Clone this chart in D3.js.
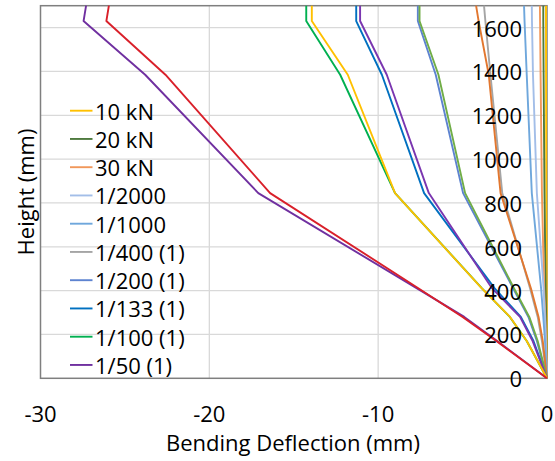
<!DOCTYPE html>
<html><head><meta charset="utf-8">
<script src="https://cdn.jsdelivr.net/npm/d3@7"></script>
<style>body{margin:0;background:#fff}svg{display:block}text{font-family:"Open Sans",sans-serif;fill:#000}</style>
</head><body>
<svg id="c" width="555" height="461"></svg>
<script>
const heights = [0, 170, 280, 410, 845, 1385, 1630, 1700];
const seriesNames = ["10 kN","20 kN","30 kN","1/2000","1/1000","1/400 (1)","1/200 (1)","1/133 (1)","1/100 (1)","1/50 (1)","1/400 (2)","1/200 (2)","1/133 (2)","1/100 (2)","1/50 (2)"];
const seriesColors = ["#FFC000","#4E7A3E","#F1975A","#A3BEE8","#6FA7DC","#A5A5A5","#5D83D0","#0070C0","#00B050","#7030A0","#E2772F","#70AD47","#7A36B0","#FFC000","#D9202A"];
const deflections = [
  [0,-0.01,-0.015,-0.02,-0.04,-0.055,-0.06,-0.06],
  [0,-0.03,-0.05,-0.08,-0.15,-0.2,-0.22,-0.22],
  [0,-0.05,-0.1,-0.17,-0.3,-0.38,-0.41,-0.42],
  [0,-0.07,-0.12,-0.2,-0.6,-0.83,-0.89,-0.9],
  [0,-0.12,-0.22,-0.35,-0.9,-1.2,-1.33,-1.36],
  [0,-0.3,-0.55,-1.0,-2.65,-3.35,-3.65,-3.73],
  [0,-0.6,-1.1,-2.0,-4.97,-6.59,-7.65,-7.65],
  [0,-0.8,-1.55,-3.1,-7.28,-9.78,-11.3,-11.3],
  [0,-1.2,-2.2,-3.85,-9.0,-12.25,-14.26,-14.26],
  [0,-2.95,-4.9,-7.7,-17.1,-23.8,-27.45,-27.3],
  [0,-0.25,-0.5,-0.95,-2.75,-3.45,-4.05,-4.2],
  [0,-0.55,-1.05,-1.95,-4.85,-6.43,-7.55,-7.55],
  [0,-0.85,-1.6,-3.25,-7.0,-9.49,-11.07,-11.07],
  [0,-1.2,-2.19,-3.86,-9.0,-11.8,-13.93,-13.93],
  [0,-3.0,-5.0,-7.6,-16.4,-22.6,-26.1,-25.95]
];
const xTicks = [-30,-20,-10,0];
const yTicks = [0,200,400,600,800,1000,1200,1400,1600];
const legendCount = 10;
const xTitle = "Bending Deflection (mm)";
const yTitle = "Height (mm)";

const svg = d3.select("#c");
const L = 40.5, R = 547, T = 5.7, B = 378.3;
const x = d3.scaleLinear().domain([-30,0]).range([L,R]);
const y = d3.scaleLinear().domain([0,1700]).range([B,T]);

// gridlines
const g = svg.append("g");
g.selectAll(".vg").data(xTicks.filter(d=>d>-30 && d<0)).enter().append("line")
  .attr("x1",d=>x(d)).attr("x2",d=>x(d)).attr("y1",T).attr("y2",B)
  .attr("stroke","#D9D9D9").attr("stroke-width",1.3);
g.selectAll(".hg").data(yTicks.filter(d=>d>0)).enter().append("line")
  .attr("x1",L).attr("x2",R).attr("y1",d=>y(d)).attr("y2",d=>y(d))
  .attr("stroke","#D9D9D9").attr("stroke-width",1.3);

// frame
svg.append("rect").attr("x",L).attr("y",T).attr("width",R-L).attr("height",B-T)
  .attr("fill","none").attr("stroke","#7F7F7F").attr("stroke-width",1.5);

// lines
const line = d3.line().x(d=>x(d[0])).y(d=>y(d[1]));
deflections.forEach((vals,i)=>{
  svg.append("path").datum(vals.map((v,j)=>[v,heights[j]]))
    .attr("d",line).attr("fill","none").attr("stroke",seriesColors[i])
    .attr("stroke-width",1.9).attr("stroke-linejoin","round");
});

// x axis labels
svg.selectAll(".xt").data(xTicks).enter().append("text")
  .attr("x",d=>x(d)).attr("y",413).attr("text-anchor","middle")
  .attr("dominant-baseline","central").attr("font-size",22).text(d=>d);

// y axis labels
svg.selectAll(".yt").data(yTicks).enter().append("text")
  .attr("x",522).attr("y",d=>y(d)).attr("text-anchor","end")
  .attr("dominant-baseline","central").attr("font-size",22).text(d=>d);

// titles
svg.append("text").attr("x",293).attr("y",451).attr("text-anchor","middle")
  .attr("font-size",22).text(xTitle);
svg.append("text").attr("transform","translate(25,192) rotate(-90)").attr("text-anchor","middle")
  .attr("dominant-baseline","central").attr("font-size",22).text(yTitle);

// legend
const lg = svg.append("g");
for(let i=0;i<legendCount;i++){
  const yy = 110.7 + i*28.25;
  lg.append("line").attr("x1",70).attr("x2",92.5).attr("y1",yy).attr("y2",yy)
    .attr("stroke",seriesColors[i]).attr("stroke-width",1.9);
  lg.append("text").attr("x",95).attr("y",yy).attr("dominant-baseline","central")
    .attr("font-size",22).text(seriesNames[i]);
}
</script>
</body></html>
